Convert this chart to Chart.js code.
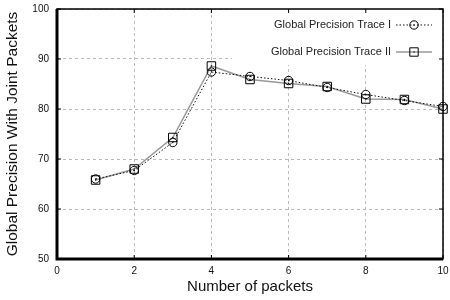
<!DOCTYPE html>
<html lang="en">
<head>
    <meta charset="UTF-8">
    <title>Global Precision With Joint Packets</title>
    <script src="https://cdn.jsdelivr.net/npm/chart.js@4/dist/chart.umd.min.js"></script>
    <style>
        html, body { margin: 0; padding: 0; background: #fff; }
        #wrap { width: 450px; height: 300px; }
    </style>
</head>
<body>
    <div id="wrap"><canvas id="chart" width="450" height="300"></canvas></div>

    <script>
        // values
        const packets = [1, 2, 3, 4, 5, 6, 7, 8, 9, 10];
        const traceI = [66.0, 67.7, 73.3, 87.4, 86.5, 85.7, 84.3, 82.9, 81.7, 80.5];
        const traceII = [65.8, 68.0, 74.3, 88.6, 85.9, 85.1, 84.5, 82.0, 81.9, 80.0];
        const seriesNames = ['Global Precision Trace I', 'Global Precision Trace II'];

        const FONT = '"Liberation Sans", Arial, sans-serif';

        function toPoints(vals) {
            return packets.map((p, i) => ({ x: p, y: vals[i] }));
        }

        // gnuplot-ish frame: white key box, border and inward ticks
        const framePlugin = {
            id: 'frame',
            beforeDatasetsDraw(chart) {
                const { ctx, chartArea: a, scales } = chart;
                ctx.save();
                // key box hides the grid behind it
                ctx.fillStyle = '#fff';
                ctx.fillRect(232, a.top, a.right - 232, 56);

                ctx.strokeStyle = '#000';
                ctx.lineWidth = 1;
                ctx.beginPath();
                scales.x.ticks.forEach(t => {
                    const px = scales.x.getPixelForValue(t.value);
                    ctx.moveTo(px, a.bottom); ctx.lineTo(px, a.bottom - 4);
                    ctx.moveTo(px, a.top); ctx.lineTo(px, a.top + 4);
                });
                scales.y.ticks.forEach(t => {
                    const py = scales.y.getPixelForValue(t.value);
                    ctx.moveTo(a.left, py); ctx.lineTo(a.left + 4, py);
                    ctx.moveTo(a.right, py); ctx.lineTo(a.right - 4, py);
                });
                ctx.stroke();

                ctx.lineWidth = 1.5;
                ctx.strokeRect(a.left, a.top, a.right - a.left, a.bottom - a.top);
                ctx.lineWidth = 3;
                ctx.beginPath();
                ctx.moveTo(a.left, a.top);
                ctx.lineTo(a.left, a.bottom);
                ctx.lineTo(a.right, a.bottom);
                ctx.stroke();
                ctx.restore();
            },
            afterDatasetsDraw(chart) {
                const ctx = chart.ctx;
                ctx.save();
                ctx.fillStyle = '#000';
                chart.data.datasets.forEach((ds, i) => {
                    chart.getDatasetMeta(i).data.forEach(pt => {
                        ctx.fillRect(pt.x - 0.6, pt.y - 0.6, 1.2, 1.2);
                    });
                });
                ctx.restore();
            },
            afterDraw(chart) {
                const ctx = chart.ctx;
                ctx.save();
                ctx.font = '11px ' + FONT;
                ctx.fillStyle = '#222';
                ctx.textAlign = 'right';
                ctx.textBaseline = 'middle';
                const rows = [25, 52];
                chart.data.datasets.forEach((ds, i) => {
                    const y = rows[i];
                    ctx.fillText(ds.label, 391, y);
                    ctx.strokeStyle = ds.borderColor;
                    ctx.lineWidth = ds.borderWidth;
                    ctx.setLineDash(ds.borderDash || []);
                    ctx.beginPath();
                    ctx.moveTo(396, y); ctx.lineTo(432, y);
                    ctx.stroke();
                    ctx.setLineDash([]);
                    ctx.strokeStyle = '#000';
                    ctx.lineWidth = 1;
                    ctx.beginPath();
                    if (ds.pointStyle === 'rect') {
                        ctx.rect(414 - 4.2, y - 4.2, 8.4, 8.4);
                    } else {
                        ctx.arc(414, y, 4.2, 0, Math.PI * 2);
                    }
                    ctx.stroke();
                    ctx.fillStyle = '#000';
                    ctx.fillRect(414 - 0.6, y - 0.6, 1.2, 1.2);
                    ctx.fillStyle = '#222';
                });
                ctx.restore();
            }
        };

        const ctx = document.getElementById('chart').getContext('2d');
        new Chart(ctx, {
            type: 'line',
            data: {
                datasets: [
                    {
                        label: seriesNames[0],
                        data: toPoints(traceI),
                        borderColor: '#111',
                        borderWidth: 1,
                        borderDash: [1.5, 2],
                        pointStyle: 'circle',
                        pointRadius: 4.2,
                        pointBorderColor: '#000',
                        pointBorderWidth: 1,
                        pointBackgroundColor: 'rgba(0,0,0,0)',
                        clip: false
                    },
                    {
                        label: seriesNames[1],
                        data: toPoints(traceII),
                        borderColor: '#999',
                        borderWidth: 1.5,
                        pointStyle: 'rect',
                        pointRadius: 6,
                        pointBorderColor: '#000',
                        pointBorderWidth: 1,
                        pointBackgroundColor: 'rgba(0,0,0,0)',
                        clip: false
                    }
                ]
            },
            options: {
                responsive: false,
                animation: false,
                layout: { padding: { top: 9, right: 7, left: 0, bottom: 4 } },
                plugins: { legend: { display: false }, tooltip: { enabled: false } },
                scales: {
                    x: {
                        type: 'linear',
                        min: 0, max: 10,
                        afterFit: s => { s.height = 37; s.paddingLeft = 0; s.paddingRight = 0; },
                        ticks: { stepSize: 2, padding: 6, color: '#111', font: { family: FONT, size: 10 } },
                        grid: { color: '#bbb', lineWidth: 1, drawTicks: false },
                        border: { display: false, dash: [3, 3] },
                        title: { display: true, text: 'Number of packets', color: '#111',
                                 font: { family: FONT, size: 15 }, padding: { top: 0, bottom: 0 } }
                    },
                    y: {
                        min: 50, max: 100,
                        afterFit: s => { s.width = 57; s.paddingTop = 0; s.paddingBottom = 0; },
                        ticks: { stepSize: 10, padding: 8, color: '#111', font: { family: FONT, size: 10 } },
                        grid: { color: '#bbb', lineWidth: 1, drawTicks: false },
                        border: { display: false, dash: [3, 3] },
                        title: { display: true, text: 'Global Precision With Joint Packets', color: '#111',
                                 font: { family: FONT, size: 15.5 }, padding: { top: 3, bottom: 0 } }
                    }
                }
            },
            plugins: [framePlugin]
        });
    </script>
</body>
</html>
